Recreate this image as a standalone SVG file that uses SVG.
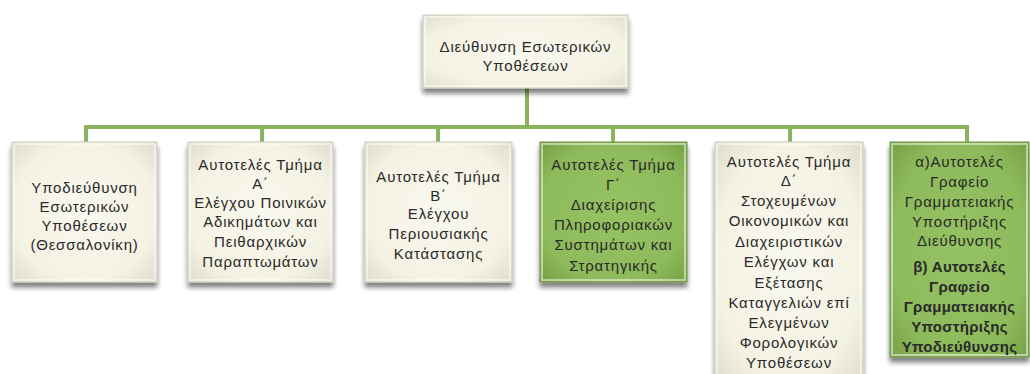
<svg xmlns="http://www.w3.org/2000/svg" width="1030" height="374" viewBox="0 0 1030 374">
<defs>
<style>
.t{font-family:"Liberation Sans",Arial,sans-serif;font-size:15px;letter-spacing:0.8px;fill:#2a2a2a;text-anchor:middle}
.b{font-weight:bold;letter-spacing:0.3px}
.cream{fill:url(#gc);stroke:#cfcdbd;stroke-width:1}
.green{fill:url(#gg);stroke:#6f9645;stroke-width:1}
.bev{fill:none;stroke:#ffffff;stroke-opacity:0.5;stroke-width:2}
.con{fill:none;stroke:#8cb35f;stroke-width:4}
</style>
<radialGradient id="gc" cx="0.5" cy="0.5" r="0.7">
<stop offset="0" stop-color="#f9f8ee"/>
<stop offset="0.7" stop-color="#f4f2e3"/>
<stop offset="1" stop-color="#dedccc"/>
</radialGradient>
<radialGradient id="gg" cx="0.5" cy="0.5" r="0.7">
<stop offset="0" stop-color="#95c262"/>
<stop offset="0.7" stop-color="#8dba5a"/>
<stop offset="1" stop-color="#76a046"/>
</radialGradient>
<filter id="sh" x="-10%" y="-10%" width="120%" height="125%">
<feGaussianBlur in="SourceAlpha" stdDeviation="2.5"/>
<feOffset dx="0" dy="5" result="o"/>
<feComponentTransfer><feFuncA type="linear" slope="0.5"/></feComponentTransfer>
<feMerge><feMergeNode/><feMergeNode in="SourceGraphic"/></feMerge>
</filter>
</defs>
<rect width="1030" height="374" fill="#ffffff"/>
<g id="connectors">
<path class="con" d="M527 88 V127 M86 142 V127 H967 V142 M262 127 V142 M438 127 V142 M613 127 V142 M790 127 V142"/>
</g>
<g id="top">
<rect class="cream" x="423" y="15" width="205" height="73" filter="url(#sh)"/>
<rect class="bev" x="425" y="17" width="201" height="69"/>
<text class="t"><tspan x="525.5" y="52">Διεύθυνση Εσωτερικών</tspan><tspan x="525.5" y="71">Υποθέσεων</tspan></text>
</g>
<g id="n1">
<rect class="cream" x="12" y="142" width="145" height="140" filter="url(#sh)"/>
<rect class="bev" x="14" y="144" width="141" height="136"/>
<text class="t"><tspan x="84.5" y="193">Υποδιεύθυνση</tspan><tspan x="84.5" y="212">Εσωτερικών</tspan><tspan x="84.5" y="231">Υποθέσεων</tspan><tspan x="84.5" y="250">(Θεσσαλονίκη)</tspan></text>
</g>
<g id="n2">
<rect class="cream" x="188" y="142" width="145" height="140" filter="url(#sh)"/>
<rect class="bev" x="190" y="144" width="141" height="136"/>
<text class="t"><tspan x="260.5" y="170">Αυτοτελές Τμήμα</tspan><tspan x="260.5" y="189">Α΄</tspan><tspan x="260.5" y="208">Ελέγχου Ποινικών</tspan><tspan x="260.5" y="227">Αδικημάτων και</tspan><tspan x="260.5" y="247">Πειθαρχικών</tspan><tspan x="260.5" y="267">Παραπτωμάτων</tspan></text>
</g>
<g id="n3">
<rect class="cream" x="365" y="142" width="147" height="140" filter="url(#sh)"/>
<rect class="bev" x="367" y="144" width="143" height="136"/>
<text class="t"><tspan x="438.5" y="182">Αυτοτελές Τμήμα</tspan><tspan x="438.5" y="201">Β΄</tspan><tspan x="438.5" y="219">Ελέγχου</tspan><tspan x="438.5" y="239">Περιουσιακής</tspan><tspan x="438.5" y="259">Κατάστασης</tspan></text>
</g>
<g id="n4">
<rect class="green" x="540" y="142" width="147" height="140" filter="url(#sh)"/>
<rect class="bev" x="542" y="144" width="143" height="136" stroke-opacity="0.25"/>
<text class="t"><tspan x="613.5" y="170">Αυτοτελές Τμήμα</tspan><tspan x="613.5" y="190">Γ΄</tspan><tspan x="613.5" y="210">Διαχείρισης</tspan><tspan x="613.5" y="230">Πληροφοριακών</tspan><tspan x="613.5" y="250">Συστημάτων και</tspan><tspan x="613.5" y="271">Στρατηγικής</tspan></text>
</g>
<g id="n5">
<rect class="cream" x="715" y="142" width="148" height="240" filter="url(#sh)"/>
<rect class="bev" x="717" y="144" width="144" height="236"/>
<text class="t"><tspan x="789" y="167">Αυτοτελές Τμήμα</tspan><tspan x="789" y="186">Δ΄</tspan><tspan x="789" y="206">Στοχευμένων</tspan><tspan x="789" y="226">Οικονομικών και</tspan><tspan x="789" y="247">Διαχειριστικών</tspan><tspan x="789" y="267">Ελέγχων και</tspan><tspan x="789" y="288">Εξέτασης</tspan><tspan x="789" y="308">Καταγγελιών επί</tspan><tspan x="789" y="328">Ελεγμένων</tspan><tspan x="789" y="348">Φορολογικών</tspan><tspan x="789" y="368">Υποθέσεων</tspan></text>
</g>
<g id="n6">
<rect class="green" x="890" y="142" width="139" height="215" filter="url(#sh)"/>
<rect class="bev" x="892" y="144" width="135" height="211" stroke-opacity="0.25"/>
<text class="t"><tspan x="959.5" y="167">α)Αυτοτελές</tspan><tspan x="959.5" y="187">Γραφείο</tspan><tspan x="959.5" y="207">Γραμματειακής</tspan><tspan x="959.5" y="227">Υποστήριξης</tspan><tspan x="959.5" y="246">Διεύθυνσης</tspan></text>
<text class="t b"><tspan x="959.5" y="272">β) Αυτοτελές</tspan><tspan x="959.5" y="292">Γραφείο</tspan><tspan x="959.5" y="312">Γραμματειακής</tspan><tspan x="959.5" y="332">Υποστήριξης</tspan><tspan x="959.5" y="352">Υποδιεύθυνσης</tspan></text>
</g>
</svg>
